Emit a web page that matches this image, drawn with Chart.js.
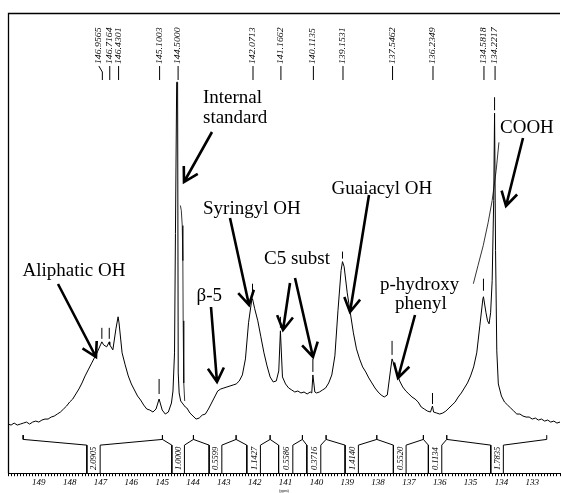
<!DOCTYPE html>
<html>
<head>
<meta charset="utf-8">
<script src="https://cdn.jsdelivr.net/npm/chart.js@4.4.0/dist/chart.umd.min.js"></script>
<style>
  html, body { margin: 0; padding: 0; background: #fff; }
</style>
</head>
<body>
<canvas id="nmr" width="561" height="493"></canvas>
<script>
// 31P NMR trace, chemical shift (ppm) and signal height
const shift = [150.0,149.9,149.8,149.7,149.6,149.5,149.4,149.3,149.2,149.1,149.0,148.9,148.8,148.7,148.6,148.5,148.4,148.3,148.2,148.1,
  148.0,147.9,147.8,147.7,147.6,147.5,147.4,147.3,147.2,147.1,147.0,146.9565,146.9,146.8,146.7164,146.7,146.6,146.5,146.4301,146.4,
  146.3,146.2,146.1,146.0,145.9,145.8,145.7,145.6,145.5,145.4,145.3,145.2,145.1003,145.0,144.9,144.8,144.7,144.65,144.6,144.57,
  144.53,144.5,144.48,144.45,144.4,144.35,144.3,144.25,144.2,144.1,144.0,143.9,143.8,143.7,143.6,143.5,143.4,143.3,143.2,143.1,
  143.0,142.9,142.8,142.7,142.6,142.5,142.4,142.3,142.2,142.1,142.0713,142.0,141.9,141.8,141.7,141.6,141.5,141.4,141.3,141.22,
  141.1662,141.1,141.0,140.9,140.8,140.7,140.6,140.5,140.4,140.3,140.2,140.15,140.1135,140.05,140.0,139.9,139.8,139.7,139.6,139.5,
  139.4,139.3,139.2,139.1531,139.1,139.0,138.9,138.8,138.7,138.6,138.5,138.4,138.3,138.2,138.1,138.0,137.9,137.8,137.7,137.6,
  137.5462,137.5,137.4,137.3,137.2,137.1,137.0,136.9,136.8,136.7,136.6,136.5,136.4,136.3,136.2349,136.2,136.1,136.0,135.9,135.8,
  135.7,135.6,135.5,135.4,135.3,135.2,135.1,135.0,134.9,134.8,134.7,134.6,134.5818,134.5,134.45,134.4,134.35,134.3,134.25,134.2217,
  134.19,134.15,134.1,134.0,133.9,133.8,133.7,133.6,133.5,133.4,133.3,133.2,133.1,133.0,132.9,132.8,132.7,132.6,132.5,132.4,
  132.3,132.2,132.1];
const signal = [49,48,50,48,49,50,51,49,51,52,51,53,54,54,56,57,59,61,64,67,
  71,74,79,84,90,97,103,109,115,121,128,131,128,126,131,128,123,144,156,150,
  120,108,97,89,83,77,73,68,64,63,61,64,74,63,59,61,70,82,120,239,
  390,390,100,80,72,70,68,66,65,60,57,54,55,58,59,64,70,76,82,84,
  85,86,87,88,89,92,98,114,150,172,174,164,152,136,120,107,96,91,92,102,
  142,96,89,85,83,81,82,80,81,79,81,80,98,81,80,81,83,85,90,98,
  117,162,202,211,206,180,160,140,124,114,106,101,95,90,85,81,78,76,78,102,
  114,110,101,92,86,82,79,76,74,71,66,64,62,61,67,61,60,59,60,62,
  65,68,71,76,80,85,90,97,106,120,147,174,176,160,152,149,160,192,272,359,
  222,122,89,77,71,68,65,62,59,59,57,56,56,54,55,53,54,52,53,51,
  52,50,51];

// faint extra curves over the internal standard and the COOH peak
const stdCurveShift = [144.41,144.38,144.35,144.33,144.32,144.30,144.27];
const stdCurveSignal = [267,262,247,212,152,90,72];
const acidCurveShift = [134.91,134.76,134.59,134.43,134.30,134.17,134.08];
const acidCurveSignal = [189,207,227,250,272,302,330];

// picked peaks (labels along the top) and their small markers
const peakList = [146.9565,146.7164,146.4301,145.1003,144.5000,142.0713,141.1662,140.1135,139.1531,137.5462,136.2349,134.5818,134.2217];
const markerShift = [146.9565,146.7164,145.1003,142.0713,141.1662,140.1135,139.1531,137.5462,136.2349,134.5818,134.2217];
const markerLow = [134,134,79,176,145,101,214,118,69,182,362];
const markerHigh = [145,145,94,189,156,114,221,132,80,194,375];

// integral regions (ppm) and their values
const integralStart = [149.508,147.012,144.279,143.066,141.815,140.764,139.857,138.638,137.091,135.934,133.937];
const integralTop = [149.508,144.992,143.987,142.603,141.500,140.453,139.685,138.041,136.530,135.772,132.530];
const integralEnd = [147.443,144.687,143.478,142.256,141.225,140.310,139.069,137.503,136.368,134.345,132.530];
const integralValues = ['2.0905','1.0000','0.5599','1.1427','0.5586','0.3716','1.4140','0.5520','0.1134','1.7835'];

const serif = "'Liberation Serif', 'Times New Roman', serif";

const pairs = (xs, ys) => xs.map((x, i) => ({x: x, y: ys[i]}));

// marker segments, split by gaps
let markerPts = [];
markerShift.forEach((p, i) => {
  markerPts.push({x: p, y: markerLow[i]}, {x: p, y: markerHigh[i]}, {x: p, y: null});
});

// integral brackets: edge 28, shoulder 33.7, tick 38
let integralPts = [];
integralStart.forEach((s, i) => {
  const last = i === integralStart.length - 1;
  if (i === 0) {
    integralPts.push({x: s, y: 38}, {x: s, y: 33.7});
  } else {
    integralPts.push({x: s, y: 0}, {x: s, y: 28}, {x: integralTop[i], y: 33.7}, {x: integralTop[i], y: 38}, {x: integralTop[i], y: 33.7});
  }
  if (last) {
    integralPts.push({x: integralEnd[i], y: 38});
  } else {
    integralPts.push({x: integralEnd[i], y: 28}, {x: integralEnd[i], y: 0}, {x: integralEnd[i], y: null});
  }
});

// text and arrows drawn on top (pixel layout)
const notes = [
  ['Aliphatic OH', 22.5, 276], ['Internal', 203, 103], ['standard', 203, 123],
  ['Syringyl OH', 203, 214], ['\u03b2-5', 196.5, 301], ['C5 subst', 264, 264],
  ['Guaiacyl OH', 331.5, 193.5], ['p-hydroxy', 380, 289.5], ['phenyl', 395, 309], ['COOH', 500, 132.5]
];
const arrows = [
  [58,284,96,357], [212,132,184,182], [230,218,249,305], [211,307,217,382],
  [290,283,283,330], [295,278,313,357], [369,195,350,312], [415,315,398,378], [523,138,506,206]
];

const decorations = {
  id: 'decorations',
  afterDatasetsDraw(chart) {
    const ctx = chart.ctx;
    const area = chart.chartArea;
    const xs = chart.scales.x;
    ctx.save();
    ctx.strokeStyle = '#000';
    ctx.fillStyle = '#000';

    // frame top and left
    ctx.lineWidth = 1.3;
    ctx.beginPath();
    ctx.moveTo(area.left + 0.5, area.bottom);
    ctx.lineTo(area.left + 0.5, area.top + 0.5);
    ctx.lineTo(area.right, area.top + 0.5);
    ctx.stroke();

    // peak labels along the top
    ctx.lineWidth = 1;
    peakList.forEach((p, i) => {
      const x = xs.getPixelForValue(p);
      const shiftX = i === 0 ? -3.5 : 0;
      ctx.beginPath();
      ctx.moveTo(x + 0.5, 80);
      ctx.lineTo(x + 0.5, 72);
      ctx.lineTo(x + 0.5 + shiftX, 66);
      ctx.stroke();
      ctx.save();
      ctx.translate(x + shiftX + 2.5, 64);
      ctx.rotate(-Math.PI / 2);
      ctx.scale(1.3, 1);
      ctx.font = 'italic 7.5px ' + serif;
      ctx.textAlign = 'left';
      ctx.textBaseline = 'alphabetic';
      ctx.fillText(p.toFixed(4), 0, 0);
      ctx.restore();
    });

    // integral values between brackets
    integralValues.forEach((v, i) => {
      const x = (xs.getPixelForValue(integralEnd[i]) + xs.getPixelForValue(integralStart[i + 1])) / 2;
      ctx.save();
      ctx.translate(x + 3, 470);
      ctx.rotate(-Math.PI / 2);
      ctx.font = 'italic 8.5px ' + serif;
      ctx.textAlign = 'left';
      ctx.textBaseline = 'alphabetic';
      ctx.fillText(v, 0, 0);
      ctx.restore();
    });

    // annotations
    ctx.font = '19px ' + serif;
    ctx.textAlign = 'left';
    ctx.textBaseline = 'alphabetic';
    notes.forEach(n => ctx.fillText(n[0], n[1], n[2]));

    ctx.lineWidth = 2.6;
    ctx.lineCap = 'butt';
    arrows.forEach(a => {
      const [x0, y0, x1, y1] = a;
      const ang = Math.atan2(y0 - y1, x0 - x1);
      const head = 16, spread = Math.PI / 6;
      ctx.beginPath();
      ctx.moveTo(x0, y0);
      ctx.lineTo(x1, y1);
      ctx.moveTo(x1 + head * Math.cos(ang - spread), y1 + head * Math.sin(ang - spread));
      ctx.lineTo(x1, y1);
      ctx.lineTo(x1 + head * Math.cos(ang + spread), y1 + head * Math.sin(ang + spread));
      ctx.stroke();
    });
    ctx.restore();
  }
};

const lineStyle = {borderColor: '#000', borderWidth: 1, pointRadius: 0, tension: 0, fill: false};

new Chart(document.getElementById('nmr'), {
  type: 'line',
  data: {
    datasets: [
      Object.assign({label: 'spectrum', data: pairs(shift, signal)}, lineStyle),
      Object.assign({label: 'std curve', data: pairs(stdCurveShift, stdCurveSignal)}, lineStyle, {borderWidth: 0.8}),
      Object.assign({label: 'acid curve', data: pairs(acidCurveShift, acidCurveSignal)}, lineStyle, {borderWidth: 0.8}),
      Object.assign({label: 'markers', data: markerPts}, lineStyle),
      Object.assign({label: 'integrals', data: integralPts}, lineStyle)
    ]
  },
  options: {
    responsive: false,
    animation: false,
    devicePixelRatio: 1,
    layout: { padding: {left: 8, right: 1, top: 13, bottom: 0} },
    plugins: { legend: {display: false}, tooltip: {enabled: false} },
    scales: {
      x: {
        type: 'linear',
        reverse: true,
        min: 132.1,
        max: 150,
        border: {display: true, color: '#000', width: 1},
        grid: {display: true, drawOnChartArea: false, drawTicks: true, tickLength: 3, tickColor: '#000', color: '#000'},
        ticks: {
          stepSize: 0.1,
          autoSkip: false,
          maxRotation: 0,
          padding: 1,
          color: '#000',
          font: {family: serif, style: 'italic', size: 9},
          callback: (v) => {
            const r = Math.round(v);
            return (Math.abs(v - r) < 0.001 && r < 150) ? String(r) : '';
          }
        },
        title: {display: true, text: '(ppm)', color: '#000', font: {family: serif, size: 4, lineHeight: 1}, padding: 0}
      },
      y: { display: false, min: 0, max: 459 }
    }
  },
  plugins: [decorations]
});
</script>
</body>
</html>
